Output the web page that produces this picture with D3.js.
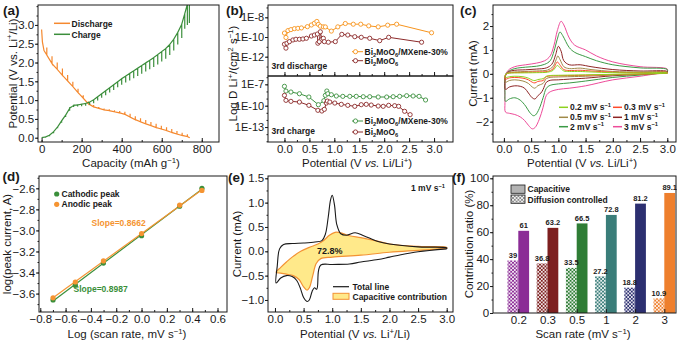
<!DOCTYPE html>
<html>
<head>
<meta charset="utf-8">
<script src="https://cdn.jsdelivr.net/npm/d3@7"></script>
<style>
body { margin: 0; background: #fff; }
svg { display: block; font-family: "Liberation Sans", Arial, sans-serif; }
.axis { font-family: "Liberation Sans", Arial, sans-serif; }
.axis text { font-size: 11.5px; fill: #1a1a1a; }
.axis line { stroke: #1a1a1a; }
</style>
</head>
<body>
<svg id="fig" width="677" height="343"></svg>
<script>
// ---------- (a) GITT profile: capacity, closed-circuit potential, relaxed potential ----------
const disCap   = [0, 4, 12, 26, 52, 78, 104, 130, 156, 182, 208, 234, 260, 286, 312, 338, 364, 390, 416, 442, 468, 494, 520, 546, 572, 598, 624, 650, 676, 702, 728, 740];
const disV     = [2.88, 2.55, 2.32, 2.2, 1.97, 1.82, 1.66, 1.51, 1.36, 1.2, 1.05, 0.9, 0.82, 0.78, 0.74, 0.72, 0.69, 0.66, 0.62, 0.55, 0.48, 0.42, 0.37, 0.32, 0.27, 0.23, 0.19, 0.14, 0.1, 0.06, 0.03, 0.0];
const disRelax = [2.88, 2.55, 2.32, 2.4, 2.17, 2.0, 1.84, 1.67, 1.49, 1.3, 1.13, 0.96, 0.87, 0.82, 0.78, 0.76, 0.73, 0.71, 0.69, 0.64, 0.57, 0.52, 0.47, 0.42, 0.37, 0.32, 0.28, 0.23, 0.18, 0.13, 0.09, 0.0];

const chCap   = [0, 20, 40, 60, 80, 100, 120, 140, 160, 180, 200, 220, 240, 260, 280, 300, 320, 340, 360, 380, 400, 420, 440, 460, 480, 500, 520, 540, 560, 580, 600, 620, 640, 660, 680, 700, 715, 728, 738];
const chV     = [0.0, 0.02, 0.07, 0.16, 0.29, 0.45, 0.6, 0.78, 0.86, 0.87, 0.89, 0.91, 0.95, 1.01, 1.09, 1.17, 1.25, 1.33, 1.41, 1.49, 1.57, 1.64, 1.71, 1.78, 1.85, 1.92, 1.99, 2.06, 2.13, 2.21, 2.29, 2.37, 2.48, 2.62, 2.8, 3.02, 3.3, 3.55, 3.6];
const chRelax = [0.0, 0.0, 0.04, 0.12, 0.25, 0.4, 0.55, 0.72, 0.82, 0.83, 0.84, 0.85, 0.88, 0.92, 0.99, 1.06, 1.13, 1.2, 1.27, 1.34, 1.41, 1.47, 1.52, 1.58, 1.64, 1.7, 1.76, 1.82, 1.88, 1.95, 2.03, 2.1, 2.2, 2.32, 2.48, 2.65, 2.9, 3.0, 3.05];

// ---------- (b) log D vs potential ----------
const disMx  = [[0.0, -9.6], [0.03, -10.05], [0.07, -9.35], [0.13, -9.25], [0.2, -9.15], [0.27, -9.12], [0.34, -9.08], [0.46, -8.95], [0.54, -8.78], [0.6, -8.6], [0.65, -8.42], [0.68, -8.72], [0.72, -8.9], [0.78, -8.97], [0.82, -8.98], [0.94, -9.4], [1.07, -8.97], [1.22, -8.63], [1.38, -8.7], [1.53, -8.7], [1.69, -8.87], [1.88, -8.97], [2.07, -8.8], [2.25, -8.7], [2.95, -9.57]];
const disBmo = [[0.0, -10.73], [0.03, -11.13], [0.05, -10.63], [0.1, -10.47], [0.17, -10.3], [0.23, -10.23], [0.3, -10.23], [0.37, -10.2], [0.44, -10.13], [0.54, -9.9], [0.6, -9.8], [0.66, -9.7], [0.67, -10.63], [0.7, -10.47], [0.72, -9.47], [0.75, -10.23], [0.78, -10.13], [0.8, -10.47], [0.88, -10.53], [1.02, -10.47], [1.15, -9.73], [1.27, -9.8], [1.41, -9.97], [1.54, -10.03], [1.71, -10.13], [1.91, -10.37], [2.09, -10.03], [2.75, -10.53]];
const chMx   = [[0.0, -7.28], [0.03, -7.94], [0.13, -8.08], [0.3, -8.32], [0.49, -8.78], [0.68, -9.86], [0.79, -9.3], [0.82, -8.55], [0.85, -7.94], [0.87, -8.32], [0.94, -8.46], [1.04, -8.64], [1.17, -8.69], [1.31, -8.69], [1.44, -8.69], [1.58, -8.74], [1.71, -8.74], [1.88, -8.78], [2.05, -8.78], [2.18, -8.74], [2.31, -8.69], [2.45, -8.6], [2.58, -8.64], [2.7, -8.69], [2.83, -9.2]];
const chBmo  = [[0.0, -8.55], [0.03, -9.25], [0.13, -9.39], [0.3, -9.49], [0.49, -9.95], [0.67, -10.65], [0.75, -10.75], [0.8, -10.51], [0.84, -9.63], [0.86, -9.35], [0.91, -9.49], [1.01, -9.63], [1.14, -9.81], [1.27, -9.95], [1.41, -10.09], [1.54, -9.86], [1.64, -9.81], [1.74, -9.91], [1.88, -10.05], [1.98, -10.09], [2.09, -9.95], [2.21, -10.0], [2.29, -10.09], [2.41, -10.79], [2.52, -11.26]];

// ---------- (c) CV curves at different scan rates: cathodic branch (3.0 -> 0) then anodic (0 -> 3.0) ----------
const cvRates  = ['0.2', '0.3', '0.5', '1', '2', '3'];
const cvColors = ['#8dd21e', '#ff4b2b', '#a08a48', '#8e2424', '#3b9a45', '#ee4c9a'];
const cv02 = [[3.0, 0.02], [2.5, 0.0], [2.0, -0.02], [1.5, -0.04], [1.0, -0.06], [0.85, -0.07], [0.78, -0.1], [0.72, -0.2], [0.67, -0.22], [0.62, -0.24], [0.57, -0.28], [0.52, -0.26], [0.45, -0.18], [0.35, -0.12], [0.2, -0.1], [0.1, -0.12], [0.03, -0.15],
              [0.02, -0.08], [0.04, 0.0], [0.1, 0.03], [0.3, 0.04], [0.6, 0.05], [0.8, 0.07], [0.9, 0.14], [0.95, 0.28], [0.98, 0.35], [1.02, 0.28], [1.1, 0.12], [1.2, 0.1], [1.4, 0.1], [1.6, 0.08], [2.0, 0.05], [2.5, 0.04], [3.0, 0.04]];
const cv03 = [[3.0, 0.02], [2.5, -0.01], [2.0, -0.03], [1.5, -0.06], [1.0, -0.08], [0.85, -0.09], [0.78, -0.12], [0.72, -0.28], [0.67, -0.3], [0.62, -0.32], [0.57, -0.38], [0.52, -0.35], [0.45, -0.25], [0.35, -0.18], [0.2, -0.15], [0.1, -0.17], [0.03, -0.22],
              [0.02, -0.12], [0.04, 0.0], [0.1, 0.04], [0.3, 0.06], [0.6, 0.08], [0.8, 0.1], [0.9, 0.2], [0.95, 0.4], [0.98, 0.5], [1.02, 0.4], [1.1, 0.18], [1.2, 0.14], [1.4, 0.15], [1.6, 0.12], [2.0, 0.07], [2.5, 0.05], [3.0, 0.05]];
const cv05 = [[3.0, 0.03], [2.5, -0.02], [2.0, -0.05], [1.5, -0.1], [1.0, -0.13], [0.85, -0.15], [0.78, -0.2], [0.72, -0.4], [0.67, -0.45], [0.62, -0.5], [0.57, -0.6], [0.52, -0.55], [0.45, -0.4], [0.35, -0.3], [0.2, -0.25], [0.1, -0.28], [0.03, -0.35],
              [0.02, -0.2], [0.04, 0.0], [0.1, 0.06], [0.3, 0.09], [0.6, 0.12], [0.8, 0.16], [0.9, 0.3], [0.96, 0.6], [0.99, 0.75], [1.03, 0.6], [1.1, 0.3], [1.2, 0.22], [1.4, 0.24], [1.6, 0.18], [2.0, 0.1], [2.5, 0.08], [3.0, 0.07]];
const cv1  = [[3.0, 0.05], [2.5, -0.02], [2.0, -0.08], [1.5, -0.18], [1.2, -0.22], [1.0, -0.25], [0.85, -0.27], [0.78, -0.35], [0.72, -0.65], [0.68, -0.8], [0.63, -0.9], [0.57, -1.05], [0.52, -1.0], [0.45, -0.8], [0.38, -0.6], [0.3, -0.52], [0.2, -0.5], [0.1, -0.55], [0.03, -0.65],
              [0.02, -0.4], [0.04, 0.0], [0.1, 0.1], [0.2, 0.15], [0.4, 0.17], [0.6, 0.2], [0.78, 0.25], [0.88, 0.4], [0.95, 0.8], [1.0, 1.15], [1.05, 0.95], [1.1, 0.55], [1.2, 0.38], [1.4, 0.38], [1.6, 0.3], [2.0, 0.18], [2.5, 0.12], [3.0, 0.1]];
const cv2  = [[3.0, 0.06], [2.5, -0.05], [2.0, -0.15], [1.5, -0.3], [1.2, -0.38], [1.0, -0.42], [0.85, -0.48], [0.78, -0.6], [0.72, -1.0], [0.65, -1.45], [0.58, -1.72], [0.54, -1.75], [0.47, -1.6], [0.4, -1.35], [0.3, -1.1], [0.2, -1.0], [0.1, -1.05], [0.03, -1.15],
              [0.02, -0.8], [0.03, -0.05], [0.08, 0.1], [0.2, 0.22], [0.4, 0.28], [0.6, 0.32], [0.75, 0.4], [0.85, 0.55], [0.92, 0.95], [0.98, 1.45], [1.03, 1.75], [1.08, 1.6], [1.2, 1.1], [1.3, 0.9], [1.5, 0.72], [1.7, 0.55], [2.0, 0.38], [2.5, 0.25], [3.0, 0.18]];
const cv3  = [[3.0, 0.08], [2.5, -0.1], [2.0, -0.25], [1.5, -0.5], [1.2, -0.6], [1.0, -0.65], [0.85, -0.75], [0.78, -0.9], [0.72, -1.4], [0.65, -1.9], [0.57, -2.25], [0.52, -2.3], [0.45, -2.15], [0.38, -1.95], [0.3, -1.8], [0.2, -1.7], [0.1, -1.65], [0.03, -1.6],
              [0.02, -1.2], [0.03, -0.1], [0.08, 0.15], [0.2, 0.3], [0.4, 0.38], [0.6, 0.45], [0.75, 0.55], [0.85, 0.75], [0.92, 1.2], [0.98, 1.8], [1.05, 2.2], [1.1, 2.05], [1.2, 1.5], [1.3, 1.2], [1.5, 1.0], [1.7, 0.75], [2.0, 0.5], [2.5, 0.3], [3.0, 0.2]];

// ---------- (d) log peak current vs log scan rate ----------
const logRate     = [-0.699, -0.523, -0.301, 0, 0.301, 0.477];
const logCathodic = [-3.66, -3.52, -3.31, -3.05, -2.77, -2.6];
const logAnodic   = [-3.64, -3.49, -3.29, -3.03, -2.76, -2.62];

// ---------- (e) 1 mV/s CV with capacitive part ----------
const totalLine = [[3.0, 0.05], [2.5, -0.01], [2.2, -0.07], [2.0, -0.12], [1.8, -0.17], [1.5, -0.22], [1.3, -0.26], [1.0, -0.27], [0.8, -0.28], [0.76, -0.4], [0.73, -0.78], [0.69, -0.75], [0.65, -0.82], [0.6, -1.0], [0.56, -1.03], [0.5, -0.95], [0.44, -0.75], [0.38, -0.6], [0.3, -0.52], [0.2, -0.5], [0.1, -0.55], [0.02, -0.65],
                   [0.04, -0.3], [0.08, 0.05], [0.15, 0.14], [0.3, 0.16], [0.5, 0.17], [0.7, 0.19], [0.82, 0.22], [0.88, 0.35], [0.93, 0.7], [0.97, 1.05], [1.0, 1.15], [1.04, 0.95], [1.08, 0.55], [1.15, 0.36], [1.25, 0.33], [1.4, 0.38], [1.55, 0.32], [1.8, 0.2], [2.0, 0.15], [2.5, 0.09], [3.0, 0.07]];
const capLine   = [[3.0, 0.06], [2.5, 0.02], [2.0, -0.02], [1.5, -0.08], [1.0, -0.12], [0.8, -0.15], [0.72, -0.25], [0.66, -0.5], [0.6, -0.75], [0.56, -0.8], [0.5, -0.73], [0.42, -0.58], [0.32, -0.5], [0.2, -0.47], [0.1, -0.45], [0.02, -0.43],
                   [0.1, -0.33], [0.2, -0.22], [0.3, -0.12], [0.45, 0.0], [0.6, 0.08], [0.75, 0.15], [0.85, 0.22], [0.95, 0.33], [1.05, 0.39], [1.15, 0.38], [1.3, 0.32], [1.5, 0.28], [1.75, 0.22], [2.0, 0.15], [2.5, 0.1], [3.0, 0.08]];

// ---------- (f) contribution ratio ----------
const scanRates  = ['0.2', '0.3', '0.5', '1', '2', '3'];
const capacitive = [61, 63.2, 66.5, 72.8, 81.2, 89.1];
const diffusion  = [39, 36.8, 33.5, 27.2, 18.8, 10.9];
const barColors  = ['#8b2c96', '#7d1f1f', '#2f7d35', '#3a7d79', '#2c2f70', '#ee7f2d'];

const svg = d3.select('#fig');
const defs = svg.append('defs');
const INK = '#1a1a1a';

// text with sub/superscripts, parts are strings or [text, 'sup'|'sub'|'i']
function rich(t, parts, size) {
    let shift = 0;
    parts.forEach(p => {
        const [s, k] = typeof p === 'string' ? [p, null] : p;
        const ts = t.append('tspan').text(s);
        let target = 0;
        if (k === 'sup') target = -size * 0.38;
        if (k === 'sub') target = size * 0.25;
        if (k === 'sup' || k === 'sub') ts.attr('font-size', size * 0.68);
        if (k === 'i') ts.attr('font-style', 'italic');
        if (target !== shift) ts.attr('dy', target - shift);
        shift = target;
    });
    return t;
}

function label(x, y, parts, opt = {}) {
    const size = opt.size || 11.5;
    const t = svg.append('text')
        .attr('x', x).attr('y', y)
        .attr('font-size', size)
        .attr('fill', opt.color || INK)
        .attr('font-weight', opt.bold ? 'bold' : null)
        .attr('text-anchor', opt.anchor || 'start');
    if (opt.rotate) t.attr('transform', `rotate(-90,${x},${y})`);
    return rich(t, parts, size);
}

function yTitle(cx, cy, parts) {
    return label(cx + 4, cy, parts, { anchor: 'middle', rotate: true });
}

function frame(x, y) {
    const [x0, x1] = x.range(), [y0, y1] = y.range();
    svg.append('rect')
        .attr('x', x0).attr('y', y1)
        .attr('width', x1 - x0).attr('height', y0 - y1)
        .attr('fill', 'none').attr('stroke', INK).attr('stroke-width', 1);
}

function clipFor(id, x, y) {
    const [x0, x1] = x.range(), [y0, y1] = y.range();
    defs.append('clipPath').attr('id', id).append('rect')
        .attr('x', x0).attr('y', y1).attr('width', x1 - x0).attr('height', y0 - y1);
    return `url(#${id})`;
}

// bottom ticks point inward, left ticks point outward (as in the figure)
function bottomAxis(x, yPix, major, minor, fmt) {
    if (minor) {
        svg.append('g').attr('class', 'axis').attr('transform', `translate(0,${yPix})`)
            .call(d3.axisBottom(x).tickValues(minor).tickSize(-2).tickFormat(''))
            .call(a => a.select('.domain').remove());
    }
    svg.append('g').attr('class', 'axis').attr('transform', `translate(0,${yPix})`)
        .call(d3.axisBottom(x).tickValues(major).tickSize(-4).tickPadding(2.5).tickFormat(fmt))
        .call(a => a.select('.domain').remove());
}

function leftAxis(y, xPix, major, minor, fmt, fontSize) {
    if (minor) {
        svg.append('g').attr('class', 'axis').attr('transform', `translate(${xPix},0)`)
            .call(d3.axisLeft(y).tickValues(minor).tickSize(1.5).tickFormat(''))
            .call(a => a.select('.domain').remove());
    }
    const g = svg.append('g').attr('class', 'axis').attr('transform', `translate(${xPix},0)`)
        .call(d3.axisLeft(y).tickValues(major).tickSize(3).tickPadding(0.8).tickFormat(fmt))
        .call(a => a.select('.domain').remove());
    if (fontSize) g.selectAll('text').style('font-size', fontSize + 'px');
}

const f1 = d3.format('.1f');

// panel letters
[['(a)', 3, 15], ['(b)', 226, 15], ['(c)', 460, 15], ['(d)', 2.5, 181], ['(e)', 228, 181.5], ['(f)', 452, 182]]
    .forEach(([t, x, y]) => label(x, y, [t], { size: 13.5, bold: true }));

// ================= (a) =================
{
    const x = d3.scaleLinear().domain([-18, 886]).range([38, 219]);
    const y = d3.scaleLinear().domain([-0.114, 3.53]).range([142, 5]);
    const clip = clipFor('clipA', x, y);
    const line = d3.line().x(d => x(d[0])).y(d => y(d[1]));

    function gitt(cap, v, relax) {
        const pts = [];
        cap.forEach((q, i) => {
            pts.push([q, v[i]]);
            if (relax[i] !== v[i]) { pts.push([q, relax[i]]); pts.push([q, v[i]]); }
        });
        return pts;
    }

    svg.append('path').attr('clip-path', clip)
        .attr('d', line(gitt(disCap, disV, disRelax)))
        .attr('fill', 'none').attr('stroke', '#f5892f').attr('stroke-width', 1.2);
    svg.append('path').attr('clip-path', clip)
        .attr('d', line(gitt(chCap, chV, chRelax)))
        .attr('fill', 'none').attr('stroke', '#3b8e3b').attr('stroke-width', 1.2);

    bottomAxis(x, 142, d3.range(0, 801, 200), d3.range(0, 881, 100), d3.format('d'));
    leftAxis(y, 38, d3.range(0, 3.01, 0.5), d3.range(0, 3.51, 0.25), f1);
    frame(x, y);

    svg.append('line').attr('x1', 54).attr('x2', 70).attr('y1', 23.3).attr('y2', 23.3)
        .attr('stroke', '#f5892f').attr('stroke-width', 1.5);
    svg.append('line').attr('x1', 54).attr('x2', 70).attr('y1', 34.3).attr('y2', 34.3)
        .attr('stroke', '#3b8e3b').attr('stroke-width', 1.5);
    label(71.5, 26.5, ['Discharge'], { size: 8.5, bold: true });
    label(71.5, 37.5, ['Charge'], { size: 8.5, bold: true });

    yTitle(12.5, 73.5, ['Potential (V vs. Li', ['+', 'sup'], '/Li)']);
    label(131, 167, ['Capacity (mAh g', ['\u22121', 'sup'], ')'], { anchor: 'middle' });
}

// ================= (b) =================
{
    const x = d3.scaleLinear().domain([-0.33, 3.38]).range([268, 453]);
    const yTop = d3.scaleLinear().domain([-13.96, -6.75]).range([76, 5]);
    const yBot = d3.scaleLinear().domain([-15.1, -5.83]).range([142, 76]);
    const logFmt = d => `1E${d}`;

    const series = [
        [disMx, yTop, '#f7941d'], [disBmo, yTop, '#8c2a2a'],
        [chMx, yBot, '#3d9140'], [chBmo, yBot, '#8c2a2a']
    ];
    series.forEach(([data, y, col]) => {
        svg.append('path')
            .attr('d', d3.line().x(d => x(d[0])).y(d => y(d[1]))(data))
            .attr('fill', 'none').attr('stroke', col).attr('stroke-width', 1);
        svg.append('g').selectAll('circle').data(data).join('circle')
            .attr('cx', d => x(d[0])).attr('cy', d => y(d[1])).attr('r', 2.1)
            .attr('fill', '#fff').attr('stroke', col).attr('stroke-width', 0.9);
    });

    bottomAxis(x, 76, d3.range(0, 3.01, 0.5), d3.range(0, 3.31, 0.25), '');
    bottomAxis(x, 142, d3.range(0, 3.01, 0.5), d3.range(0, 3.31, 0.25), f1);
    leftAxis(yTop, 268, [-12, -10, -8], d3.range(-13, -6, 1), logFmt, 11);
    leftAxis(yBot, 268, [-13, -10, -7], d3.range(-15, -5, 1), logFmt, 11);
    frame(x, yTop);
    frame(x, yBot);

    const legend = [
        [51.7, '#f7941d', ['Bi', ['2', 'sub'], 'MoO', ['6', 'sub'], '/MXene-30%']],
        [60.7, '#8c2a2a', ['Bi', ['2', 'sub'], 'MoO', ['6', 'sub']]],
        [121, '#3d9140', ['Bi', ['2', 'sub'], 'MoO', ['6', 'sub'], '/MXene-30%']],
        [132, '#8c2a2a', ['Bi', ['2', 'sub'], 'MoO', ['6', 'sub']]]
    ];
    legend.forEach(([ly, col, parts]) => {
        svg.append('line').attr('x1', 352).attr('x2', 363).attr('y1', ly).attr('y2', ly)
            .attr('stroke', col).attr('stroke-width', 1);
        svg.append('circle').attr('cx', 355.5).attr('cy', ly).attr('r', 2.1)
            .attr('fill', '#fff').attr('stroke', col).attr('stroke-width', 0.9);
        label(364.5, ly + 3, parts, { size: 8.5, bold: true });
    });
    label(271.5, 69, ['3rd discharge'], { size: 8.5, bold: true });
    label(271.5, 134, ['3rd charge'], { size: 8.5, bold: true });

    yTitle(233, 73.5, ['Log D Li', ['+', 'sup'], '/(cm', ['2', 'sup'], ' s', ['\u22121', 'sup'], ')']);
    label(357, 167, ['Potential (V ', ['vs.', 'i'], ' Li/Li', ['+', 'sup'], ')'], { anchor: 'middle' });
}

// ================= (c) =================
{
    const x = d3.scaleLinear().domain([-0.2, 3.16]).range([493, 676]);
    const y = d3.scaleLinear().domain([-2.85, 2.88]).range([142, 5]);
    const line = d3.line().x(d => x(d[0])).y(d => y(d[1])).curve(d3.curveCatmullRom.alpha(0.5));
    const curves = [cv02, cv03, cv05, cv1, cv2, cv3];

    for (let i = curves.length - 1; i >= 0; i--) {
        const pts = curves[i].concat([curves[i][0]]);
        svg.append('path').attr('d', line(pts))
            .attr('fill', 'none').attr('stroke', cvColors[i]).attr('stroke-width', 1);
    }

    bottomAxis(x, 142, d3.range(0, 3.01, 0.5), d3.range(0, 3.01, 0.25), f1);
    leftAxis(y, 493, d3.range(-2, 2.01, 1), d3.range(-2.5, 2.51, 0.5), d3.format('d'));
    frame(x, y);

    cvRates.forEach((r, i) => {
        const col = i % 2, row = Math.floor(i / 2);
        const lx = col === 0 ? 559 : 613;
        const ly = [107.3, 117.3, 126.7][row];
        svg.append('line').attr('x1', lx).attr('x2', lx + 9).attr('y1', ly).attr('y2', ly)
            .attr('stroke', cvColors[i]).attr('stroke-width', 1.5);
        label(lx + 11, ly + 3, [r + ' mV s', ['\u22121', 'sup']], { size: 8.5, bold: true });
    });

    yTitle(472.5, 73.5, ['Current (mA)']);
    label(582, 167, ['Potential (V ', ['vs.', 'i'], ' Li/Li', ['+', 'sup'], ')'], { anchor: 'middle' });
}

// ================= (d) =================
{
    const x = d3.scaleLinear().domain([-0.81, 0.675]).range([39, 227]);
    const y = d3.scaleLinear().domain([-3.775, -2.483]).range([312, 176]);

    function fit(xs, ys) {
        const mx = d3.mean(xs), my = d3.mean(ys);
        const b = d3.sum(xs, (v, i) => (v - mx) * (ys[i] - my)) / d3.sum(xs, v => (v - mx) ** 2);
        const ext = d3.extent(xs);
        return ext.map(v => [v, my + b * (v - mx)]);
    }
    const line = d3.line().x(d => x(d[0])).y(d => y(d[1]));
    const sets = [[logCathodic, '#3a8f3a'], [logAnodic, '#f59432']];
    sets.forEach(([ys, col]) => {
        svg.append('path').attr('d', line(fit(logRate, ys)))
            .attr('fill', 'none').attr('stroke', col).attr('stroke-width', 1.2);
    });
    sets.forEach(([ys, col]) => {
        svg.append('g').selectAll('circle').data(ys).join('circle')
            .attr('cx', (d, i) => x(logRate[i])).attr('cy', d => y(d)).attr('r', 2.6)
            .attr('fill', col);
    });

    bottomAxis(x, 312, d3.range(-0.8, 0.61, 0.2), d3.range(-0.8, 0.61, 0.1), f1);
    leftAxis(y, 39, d3.range(-3.6, -2.59, 0.2), d3.range(-3.7, -2.49, 0.1), f1);
    frame(x, y);

    svg.append('circle').attr('cx', 56.7).attr('cy', 194).attr('r', 2.6).attr('fill', '#3a8f3a');
    svg.append('circle').attr('cx', 56.7).attr('cy', 204.3).attr('r', 2.6).attr('fill', '#f59432');
    label(61.5, 197, ['Cathodic peak'], { size: 8.5, bold: true });
    label(61.5, 207.3, ['Anodic peak'], { size: 8.5, bold: true });
    label(91.5, 226.3, ['Slope=0.8662'], { size: 8.5, bold: true, color: '#f59432' });
    label(73.5, 292, ['Slope=0.8987'], { size: 8.5, bold: true, color: '#3a8f3a' });

    yTitle(6.5, 244, ['log(peak current, A)']);
    label(127, 338, ['Log (scan rate, mV s', ['\u22121', 'sup'], ')'], { anchor: 'middle' });
}

// ================= (e) =================
{
    const x = d3.scaleLinear().domain([-0.122, 3.11]).range([268, 453]);
    const y = d3.scaleLinear().domain([-1.247, 1.547]).range([312, 176]);
    const line = d3.line().x(d => x(d[0])).y(d => y(d[1])).curve(d3.curveCatmullRom.alpha(0.5));

    svg.append('path').attr('d', line(capLine.concat([capLine[0]])))
        .attr('fill', '#ffe98a').attr('stroke', '#f39233').attr('stroke-width', 1.2);
    svg.append('path').attr('d', line(totalLine.concat([totalLine[0]])))
        .attr('fill', 'none').attr('stroke', INK).attr('stroke-width', 1.1);

    bottomAxis(x, 312, d3.range(0, 3.01, 0.5), d3.range(0, 3.01, 0.25), f1);
    leftAxis(y, 268, d3.range(-1, 1.51, 0.5), d3.range(-1, 1.51, 0.25), f1);
    frame(x, y);

    label(411, 191, ['1 mV s', ['\u22121', 'sup']], { size: 8.5, bold: true });
    label(317, 253.5, ['72.8%'], { size: 9, bold: true });
    svg.append('line').attr('x1', 333).attr('x2', 349).attr('y1', 286.7).attr('y2', 286.7)
        .attr('stroke', INK).attr('stroke-width', 1.2);
    svg.append('rect').attr('x', 333).attr('y', 293.3).attr('width', 16).attr('height', 6)
        .attr('fill', '#ffe98a').attr('stroke', '#f39233').attr('stroke-width', 1);
    label(352.5, 289.7, ['Total line'], { size: 8.5, bold: true });
    label(352.5, 299.7, ['Capacitive contribution'], { size: 8.5, bold: true });

    yTitle(236.5, 244, ['Current (mA)']);
    label(355, 338, ['Potential (V ', ['vs.', 'i'], ' Li', ['+', 'sup'], '/Li)'], { anchor: 'middle' });
}

// ================= (f) =================
{
    const x = d3.scalePoint().domain(scanRates).range([518.3, 664.3]);
    const y = d3.scaleLinear().domain([0, 101.7]).range([313, 176]);
    const bw = 10.8;

    function hatch(id, col) {
        const p = defs.append('pattern').attr('id', id)
            .attr('patternUnits', 'userSpaceOnUse').attr('width', 3.6).attr('height', 3.6);
        p.append('rect').attr('width', 3.6).attr('height', 3.6).attr('fill', col);
        p.append('path').attr('d', 'M0,0L3.6,3.6M3.6,0L0,3.6')
            .attr('stroke', '#fff').attr('stroke-width', 0.8);
        return `url(#${id})`;
    }

    scanRates.forEach((r, i) => {
        const cx = x(r);
        svg.append('rect').attr('x', cx - bw).attr('width', bw)
            .attr('y', y(diffusion[i])).attr('height', y(0) - y(diffusion[i]))
            .attr('fill', hatch('h' + i, barColors[i]));
        svg.append('rect').attr('x', cx).attr('width', bw)
            .attr('y', y(capacitive[i])).attr('height', y(0) - y(capacitive[i]))
            .attr('fill', barColors[i]);
        label(cx - bw / 2, y(diffusion[i]) - 2.5, [String(diffusion[i])], { size: 7.5, bold: true, anchor: 'middle' });
        label(cx + bw / 2, y(capacitive[i]) - 2.5, [String(capacitive[i])], { size: 7.5, bold: true, anchor: 'middle' });
    });

    bottomAxis(x, 313, scanRates, null, d => d);
    leftAxis(y, 493, d3.range(0, 101, 20), d3.range(0, 101, 10), d3.format('d'));
    frame(x.copy().range([493, 676]), y);

    svg.append('rect').attr('x', 511).attr('y', 185).attr('width', 14).attr('height', 8.3)
        .attr('fill', '#b3b3b3').attr('stroke', INK).attr('stroke-width', 0.8);
    svg.append('rect').attr('x', 511).attr('y', 195).attr('width', 14).attr('height', 8.3)
        .attr('fill', hatch('hLeg', '#8a8a8a')).attr('stroke', INK).attr('stroke-width', 0.8);
    label(527.5, 192.3, ['Capacitive'], { size: 8.5, bold: true });
    label(527.5, 202.5, ['Diffusion controlled'], { size: 8.5, bold: true });

    yTitle(468.5, 244, ['Contribution ratio (%)']);
    label(583, 338, ['Scan rate (mV s', ['\u22121', 'sup'], ')'], { anchor: 'middle' });
}
</script>
</body>
</html>
